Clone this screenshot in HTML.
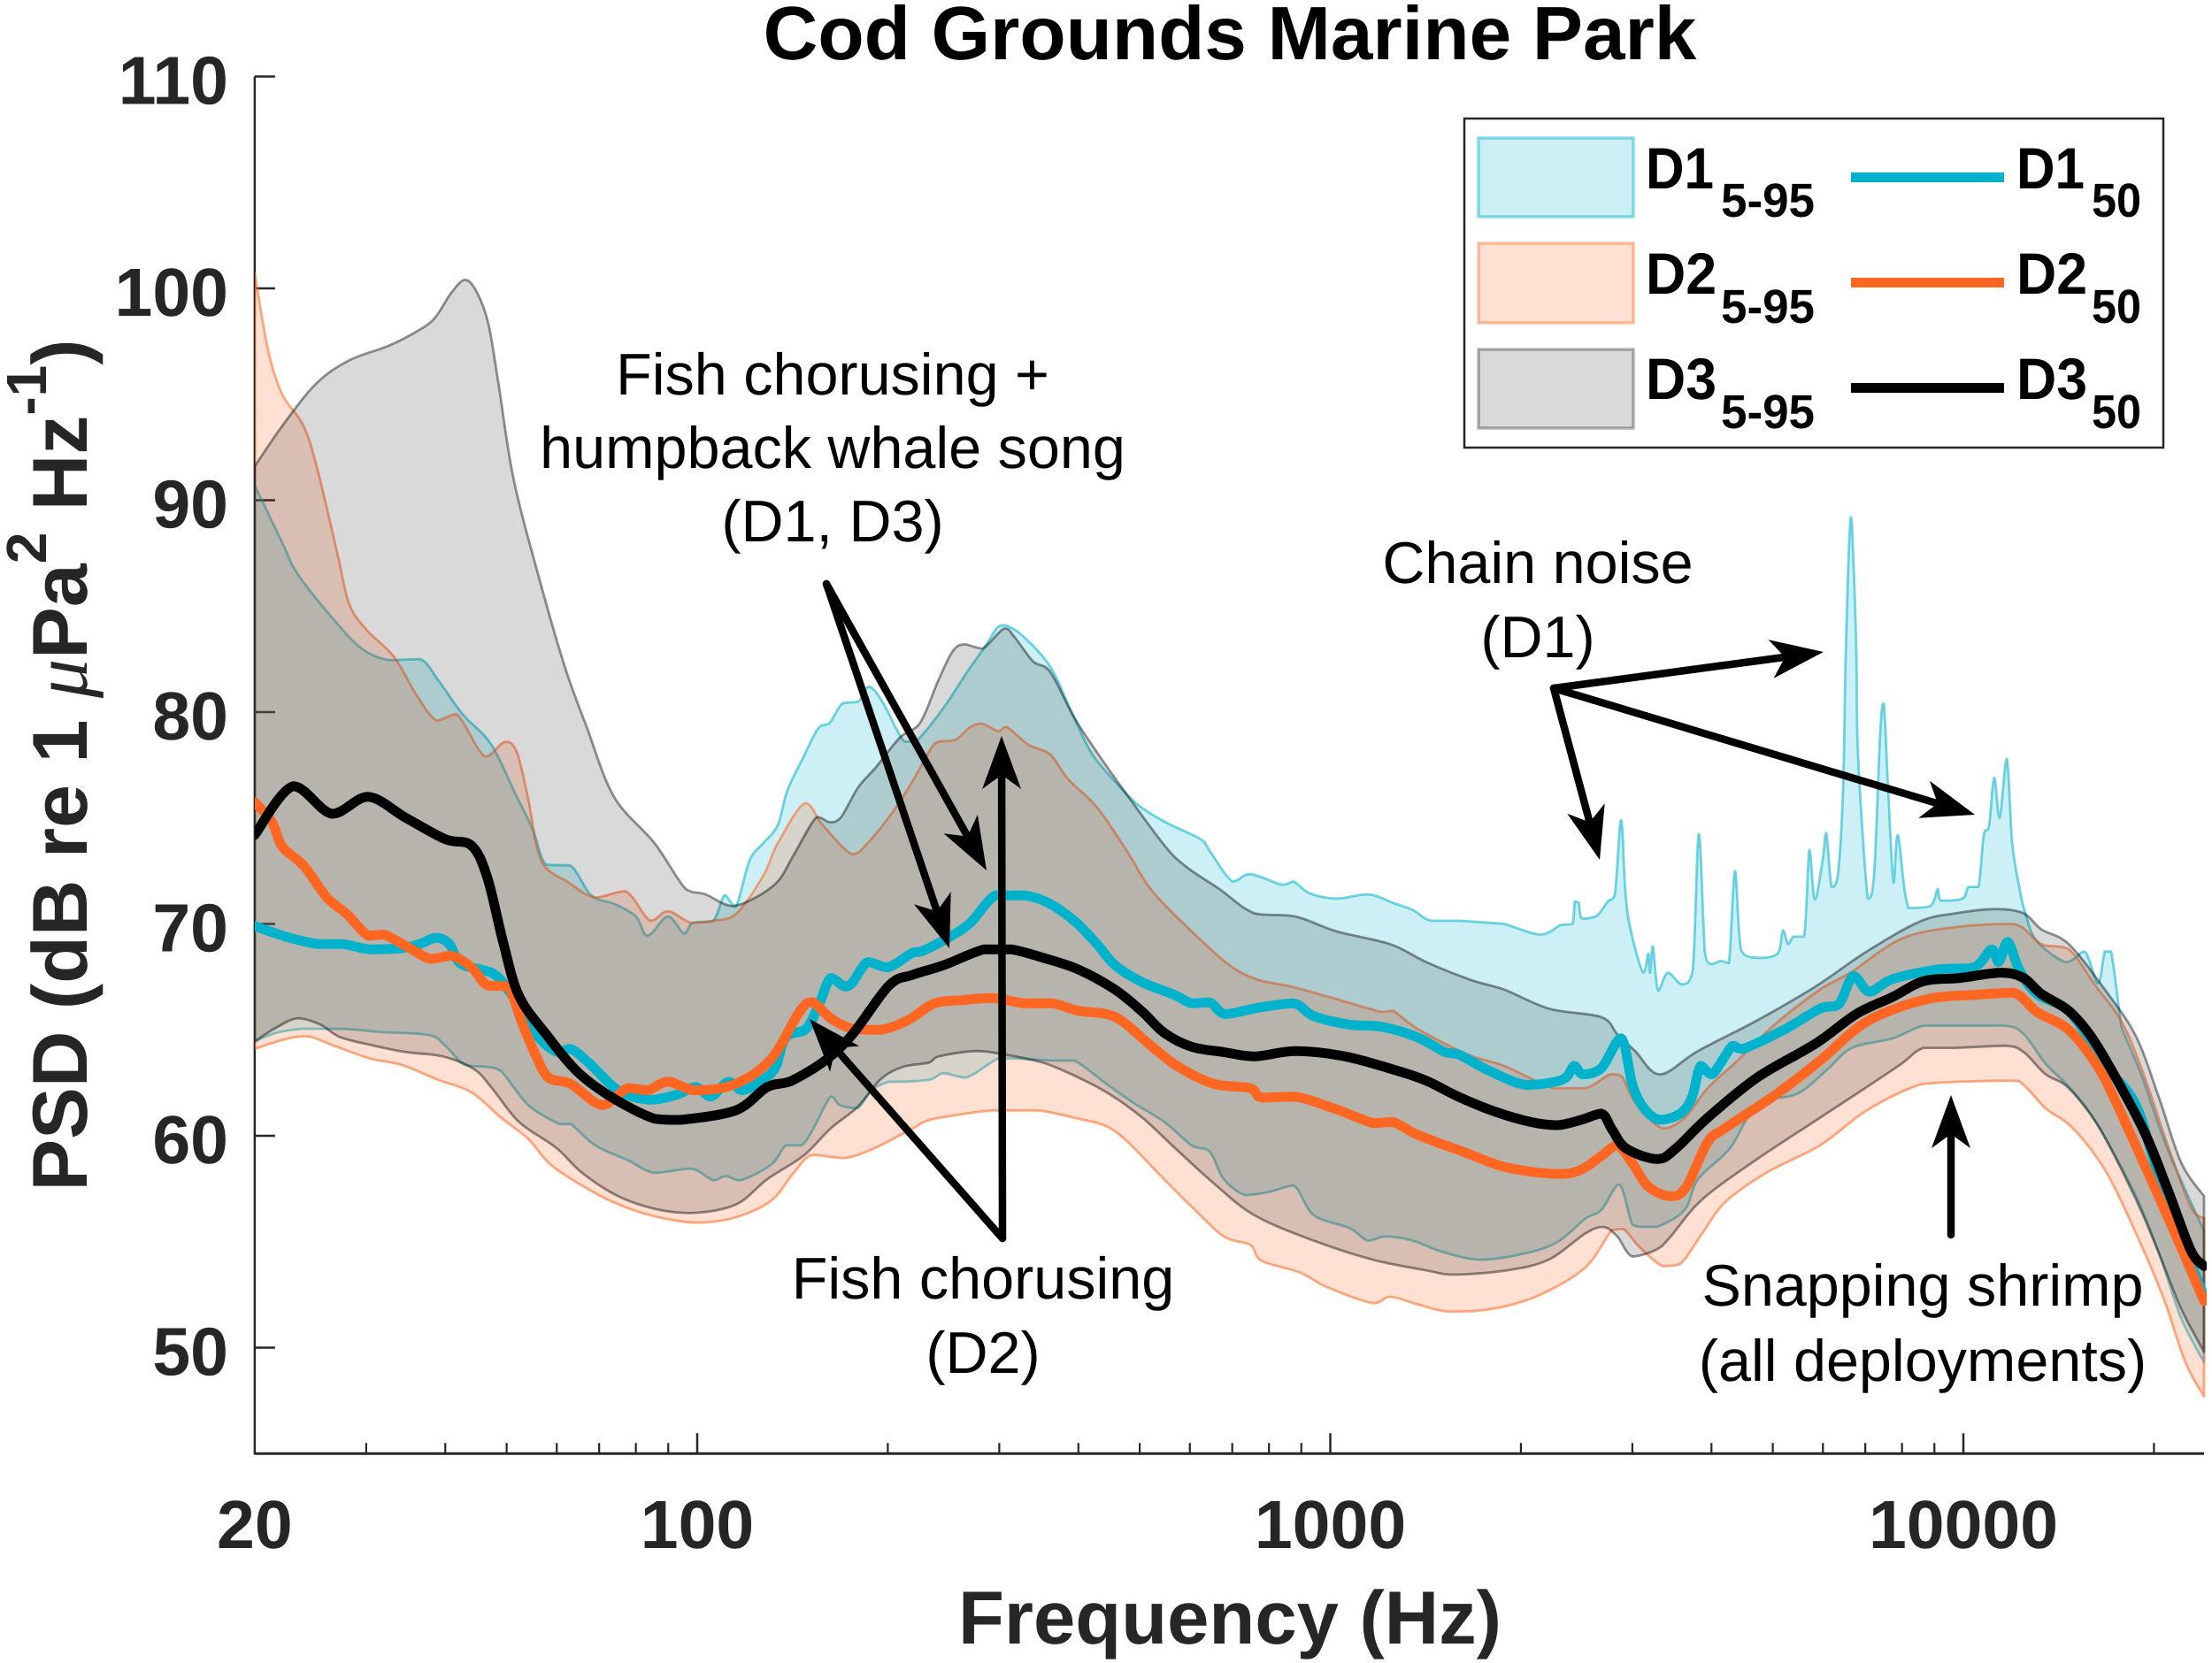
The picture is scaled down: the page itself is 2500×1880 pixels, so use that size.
<!DOCTYPE html>
<html lang="en">
<head>
<meta charset="utf-8">
<title>Cod Grounds Marine Park</title>
<style>
  html, body { margin: 0; padding: 0; background: #fff; }
  svg { display: block; }
  text { font-family: "Liberation Sans", sans-serif; text-rendering: geometricPrecision; }
  .note { font-size: 66.5px; fill: #000; text-anchor: middle; }
  .axis-title { font-size: 85px; font-weight: bold; fill: #262626; }
  .ylab { font-size: 88px; font-weight: bold; fill: #262626; }
  .tick { font-size: 77px; font-weight: bold; fill: #262626; }
  .leg { font-size: 66px; font-weight: bold; fill: #000; }
  .legsub { font-size: 54px; font-weight: bold; fill: #000; }
</style>
</head>
<body>
<svg id="chart" xmlns="http://www.w3.org/2000/svg" width="2500" height="1880" viewBox="0 0 2500 1880">
  <rect x="0" y="0" width="2500" height="1880" fill="#fff"/>
  <defs>
    <clipPath id="plot-clip"><rect x="288" y="80" width="2206" height="1564"/></clipPath>
  </defs>
  <g id="axes"></g>
  <g id="bands" clip-path="url(#plot-clip)"></g>
  <g id="medians" clip-path="url(#plot-clip)"></g>
  <g id="arrows"></g>

  <text x="1390" y="67" text-anchor="middle" font-size="85.5" font-weight="bold" fill="#000">Cod Grounds Marine Park</text>
  <text class="axis-title" x="1390" y="1858" text-anchor="middle">Frequency (Hz)</text>
  <text class="ylab" text-anchor="middle" transform="translate(98 865) rotate(-90)" xml:space="preserve">PSD (dB re 1 <tspan font-family="'Liberation Serif', serif" font-style="italic" font-weight="normal">μ</tspan>Pa<tspan font-size="64" dy="-46">2</tspan><tspan dy="46"> Hz</tspan><tspan font-size="64" dy="-46">-1</tspan><tspan dy="46">)</tspan></text>

  <g>
    <text class="note" x="941" y="446">Fish chorusing +</text>
    <text class="note" x="941" y="529">humpback whale song</text>
    <text class="note" x="941" y="612">(D1, D3)</text>
  </g>
  <g>
    <text class="note" x="1738" y="659">Chain noise</text>
    <text class="note" x="1738" y="743">(D1)</text>
  </g>
  <g>
    <text class="note" x="1111" y="1468">Fish chorusing</text>
    <text class="note" x="1111" y="1552">(D2)</text>
  </g>
  <g>
    <text class="note" x="2173" y="1476">Snapping shrimp</text>
    <text class="note" x="2173" y="1561">(all deployments)</text>
  </g>

  <g>
    <rect x="1655" y="134" width="790" height="372" fill="#fff" stroke="#262626" stroke-width="2.5"/>
    <rect x="1671" y="156" width="175" height="89" fill="#00b2cc" fill-opacity="0.2" stroke="#00b2cc" stroke-opacity="0.45" stroke-width="3.5"/>
    <rect x="1671" y="275" width="175" height="90" fill="#ff6622" fill-opacity="0.2" stroke="#ff6622" stroke-opacity="0.4" stroke-width="3.5"/>
    <rect x="1671" y="395" width="175" height="89" fill="#000" fill-opacity="0.15" stroke="#000" stroke-opacity="0.3" stroke-width="3.5"/>
    <text class="leg" x="1860" y="213" textLength="77" lengthAdjust="spacingAndGlyphs">D1</text>
    <text class="legsub" x="1945" y="245" textLength="106" lengthAdjust="spacingAndGlyphs">5-95</text>
    <text class="leg" x="1860" y="332" textLength="80" lengthAdjust="spacingAndGlyphs">D2</text>
    <text class="legsub" x="1945" y="365" textLength="106" lengthAdjust="spacingAndGlyphs">5-95</text>
    <text class="leg" x="1860" y="451" textLength="80" lengthAdjust="spacingAndGlyphs">D3</text>
    <text class="legsub" x="1945" y="484" textLength="106" lengthAdjust="spacingAndGlyphs">5-95</text>
    <line x1="2092" x2="2265" y1="200.5" y2="200.5" stroke="#00b2cc" stroke-width="11"/>
    <line x1="2092" x2="2265" y1="319.5" y2="319.5" stroke="#ff6622" stroke-width="11"/>
    <line x1="2092" x2="2265" y1="438.5" y2="438.5" stroke="#000" stroke-width="11"/>
    <text class="leg" x="2279" y="213" textLength="77" lengthAdjust="spacingAndGlyphs">D1</text>
    <text class="legsub" x="2364" y="245" textLength="56" lengthAdjust="spacingAndGlyphs">50</text>
    <text class="leg" x="2279" y="332" textLength="80" lengthAdjust="spacingAndGlyphs">D2</text>
    <text class="legsub" x="2364" y="365" textLength="56" lengthAdjust="spacingAndGlyphs">50</text>
    <text class="leg" x="2279" y="451" textLength="80" lengthAdjust="spacingAndGlyphs">D3</text>
    <text class="legsub" x="2364" y="484" textLength="56" lengthAdjust="spacingAndGlyphs">50</text>
  </g>
</svg>
<script>
// ---- Axis tick data ----
const yTickValues = [50, 60, 70, 80, 90, 100, 110];
const yTickLabels = ["50", "60", "70", "80", "90", "100", "110"];
const xLabelValues = [20, 100, 1000, 10000];
const xLabelText = ["20", "100", "1000", "10000"];
const xMajorTicks = [100, 1000, 10000];
const xMinorTicks = [30, 40, 50, 60, 70, 80, 90, 200, 300, 400, 500, 600, 700, 800, 900, 2000, 3000, 4000, 5000, 6000, 7000, 8000, 9000, 20000];

// ---- D1 series (Hz, dB) ----
const d1MedianFreq = [20,20.2,22.7,25.2,27.6,30.4,34.1,36.4,38.7,40.6,42.2,45.5,48.2,51.5,55.8,60.1,63.1,67.4,75,84.3,93,99.4,105,112,118,127,133,138,148.6,156,162.5,171,176,186,200,219,226,249,270,296,329,358,394,428,457,505,567,604,645,683,772,875,942,1072,1204,1373,1517,1592,1788,2040,2327,2428,2506,2681,2879,3001,3130,3316,3571,3724,3846,4010,4318,4487,5204,5938,6353,6708,7108,7729,9109,10390,11080,11370,11750,12250,13060,14760,16790,18730,20370,24000];
const d1Median = [69.9,69.85,69.35,69.05,69.05,68.8,68.85,69.05,69.35,69.05,68.15,67.85,67.55,66.45,64.75,63.95,64.1,63.45,62.15,61.7,61.95,62.3,61.85,62.55,62.15,62.65,63.25,64.65,65.05,66.25,67.45,67.05,67.25,68.2,67.95,68.65,68.7,69.35,70.05,71.35,71.35,71,70.15,69.05,68.05,67.25,66.65,66.25,66.3,65.75,66.05,66.25,65.65,65.25,65.15,64.65,63.95,63.85,63.05,62.4,62.65,63.3,62.9,63.2,64.6,62.4,61.3,60.75,61.05,61.8,63.3,62.9,64.25,64.1,65,66,66.2,67.55,66.8,67.4,67.85,67.95,68.8,68.2,69.15,67.85,66.7,65.8,63.3,61.45,58.1,52.4];

const d1UpperFreq = [20,22.1,23.4,26.6,29.5,32.6,36.5,39,42.6,47.2,51.5,55,57.7,63.1,68,73.9,80,83.5,89.9,95.3,98.4,106,110.5,115,121,127,134,138.8,147,155.4,162,169.5,179.6,186.7,196,206,213,223,245,267,285,298,307,328,361,389,419,461,498,549,624,645,701,747,839,875,927,1023,1147,1267,1351,1441,1592,1788,1882,2147,2313,2411,2434,2467,2499,2639,2742,2815,2879,2925,2982,3120,3180,3200,3232,3295,3414,3594,3736,3821,3908,3997,4141,4262,4358,4458,4725,5088,5187,5288,5392,5603,5712,5825,5996,6073,6192,6332,6455,6517,6581,6645,6708,6777,6819,7065,7226,7390,7486,7608,7756,7881,8192,8876,9109,9228,9968,10190,10560,10770,10980,11190,11410,11710,11940,12250,12530,13060,14530,15540,16310,16730,17110,17680,17850,19090,21030,24000];
const d1Upper = [90.7,88,86.5,84.4,83,82.45,82.5,81.5,79.9,78.5,76.2,74.45,72.8,72.75,71.35,70.95,70.35,69.45,70.35,69.55,70.05,70.15,71.35,70.8,73,73.8,74.65,76.3,77.85,79.25,79.5,80.4,80.5,81.2,80.5,79.25,78.6,78.7,80.2,81.9,83.1,84,84.1,83.55,82.15,80.1,78.1,76.6,75.6,74.8,74,73.45,72,72.35,71.85,72,71.45,71.2,71.4,70.95,70.65,70.15,70.15,70.05,70,69.5,69.95,70,71.05,71,70.25,70.4,71.05,71.4,74.9,71.5,69.7,67.7,68.6,67.7,68.95,66.85,67.7,67.15,67.8,74.25,68.6,68.1,68.25,68.15,72.5,68.75,68.4,68.6,69.7,69.05,69.4,69.4,73.5,71.15,73.05,74.3,71.75,72.25,76.3,82.7,87,89.2,87,82.7,77.9,71.2,72.25,79,80.4,76.3,71.95,74.2,70.75,70.85,71.65,71.1,71.2,71.75,71.75,74.2,74.65,76.9,75,77.8,73.85,71.75,70.5,69.2,68.2,68.7,67.2,68.7,68.7,65.6,65,62.9,59.35,55.5];

const d1LowerFreq = [20,21.6,23.8,27.6,31.5,37.7,40,42.9,46.6,49,54.1,60.7,63.1,69,77.6,85.7,97.8,106,111,117,131,138,146,152,162.5,168,179,188.6,201,211,233,245,266,299,318,364,394,443,489,547,604,645,679,735,800,875,942,1072,1147,1223,1351,1493,1726,2033,2288,2531,2681,2860,3001,3130,3283,3629,3808,4276,4725,5479,6131,6667,7729,8653,9714,11630,12450,13490,14900,16420,18730,20370,22070,24000];
const d1Lower = [64.45,64.85,65.05,65.05,64.9,64.75,64.25,63.35,63.25,63.05,61.45,60.55,60.55,59.55,58.85,58.25,58.45,57.9,58.1,57.9,58.65,59.55,59.55,60.25,61.85,61.45,61.3,62.15,62.55,62.55,62.65,62.95,62.75,63.65,63.65,63.55,63.55,62.45,61.55,60.65,59.55,59.25,57.95,57.2,57.35,57.65,56.25,55.65,55.05,55.25,55.05,54.55,54.15,54.45,55,56.1,56.5,57.7,55.8,55.7,55.7,56.5,57.95,59.4,61.45,62,63.2,64.15,64.6,65.2,65.2,65.2,64.8,63.4,62.1,60.35,57.15,54.45,51.4,49.3];

// ---- D2 series (Hz, dB) ----
const d2MedianFreq = [20,21.3,22.1,23.9,26,28,30.2,32,34.7,37.9,40.9,44,46.6,50.2,52.7,55.5,58.2,63.1,70.8,77.6,83.5,89.9,99.4,115,131,145,152,162.5,176,194.6,215,237,262,293,329,364,400,443,472,521,576,655,747,779,881,1023,1168,1256,1373,1620,1901,2288,2490,2681,2840,3001,3180,3449,3652,3945,4200,5056,5938,6840,7729,8950,10390,12000,13060,14670,16200,17290,19340,21480,24000];
const d2Median = [75.75,74.8,73.65,72.75,71.25,70.45,69.45,69.5,68.95,68.35,68.5,67.95,67.1,67.05,65.45,63.85,62.75,62.45,61.45,62.25,62.15,62.55,62.15,62.45,63.65,65.85,66.3,65.55,65.05,65,65.45,66.25,66.4,66.5,66.25,66.25,65.9,65.75,65.35,64.25,63.25,62.45,62.25,61.8,61.85,61.25,60.6,60.65,60.05,59.25,58.5,58.2,58.4,59.05,59.55,58.7,57.6,57.15,57.6,59.7,60.35,61.95,63.55,65.15,65.95,66.5,66.65,66.75,65.85,65,63.4,61.8,58.6,55.55,52.2];

const d2UpperFreq = [20,21,22.1,23.9,25.2,27.1,28.2,30,33.2,36.2,38.8,41.7,46.2,49.7,51.9,54,56.7,62.7,69,77,84.3,89.9,97.8,106,115,127,134,148,158,175.6,187,206,220,238,256,270,282,299,308,334,361,385,428,476,525,624,701,772,866,1023,1204,1256,1373,1644,1882,2254,2531,2770,2887,3030,3347,3629,3945,4416,5056,5938,6667,7984,9714,12000,13270,14670,16200,17850,19340,21030,22860,24000];
const d2Upper = [100.7,97.1,95,93.5,91.3,87.3,85.1,83.9,82.6,80.7,79.6,79.9,77.9,78.6,78.1,76,73,71.95,71.25,71.55,70.15,70.6,70.05,70.15,70.45,72.25,73.8,75.7,74.65,73.3,73.9,75.5,76.85,78.55,78.7,79.3,79.45,79.1,79.3,78.45,78,76.85,75.5,73.5,71.5,69.25,67.95,67.35,67.05,66.45,65.85,65.9,65.05,63.85,63.3,62.25,62.25,62.9,62.8,61.6,60.35,60.85,62.25,63.6,65.3,66.9,67.75,69.3,69.85,70,69.05,68.8,67.05,65.3,62.75,59.55,56.65,56.1];

const d2LowerFreq = [20,22.3,24.2,26.7,30.4,34.1,38.9,44,49,54.1,58.6,65.8,73.9,84.3,99.4,115,131,142,152,171,191.6,219,233,266,293,345,394,443,481,530,604,679,747,779,895,989,1168,1243,1373,1542,1817,2147,2531,2786,2906,3079,3347,3571,3870,4200,4880,5938,6997,8245,9109,11820,12450,13490,14900,16730,18730,20700,22430,24000];
const d2Lower = [64.1,64.55,64.7,64.25,63.65,63.35,62.65,62.05,60.85,59.85,58.65,57.65,56.85,56.25,55.9,56.15,56.95,58.25,59.1,58.95,59.45,60.35,60.75,61.05,61.2,61.2,60.85,60.45,59.65,58.35,56.65,55.25,54.85,54.1,53.55,52.85,52.1,52.4,52.05,51.7,51.85,52.5,53.8,55.55,55.6,54.75,53.85,53.95,55.4,56.85,58.25,59.55,61.15,62.25,62.5,62.6,62.4,61.3,60.35,58.4,55.4,52.35,49.3,47.7];

// ---- D3 series (Hz, dB) ----
const d3MedianFreq = [20,23,26.5,30.2,34.7,40,44,46.6,49.4,52.3,57.7,64.8,73.9,85.7,94,115,129,141,160,176,201,219,245,284,313,352,400,457,505,547,604,679,759,881,1054,1267,1418,1592,1817,2073,2283,2490,2681,2786,2934,3283,3514,3945,4725,5843,6777,7729,8653,9872,11450,12450,13270,14670,15900,17290,19340,21030,22860,24000];
const d3Median = [74.2,76.5,75.2,76,75,74,73.7,72.2,69.1,66.6,64.8,63,61.75,60.8,60.75,61.2,62.3,62.6,63.6,64.8,67.1,67.6,68.05,68.8,68.8,68.4,67.85,66.9,65.85,64.85,64.2,63.95,63.75,64,63.75,63.1,62.6,61.85,61.15,60.65,60.5,60.75,61.05,60.3,59.4,58.9,59.4,60.85,62.75,64.35,65.75,66.55,67.3,67.45,67.7,67.45,66.7,65.9,64.7,62.9,60.15,57.45,54.6,53.85];

const d3UpperFreq = [20,22.1,25,28.2,32.6,36.2,38.5,40.9,43,44.9,46.8,48.6,51.2,55.7,61.7,66.9,73.9,85.7,95.9,103,113,122.8,134,142,154.4,162,168.4,179.6,191.6,209,225,240,253,264,282,305.5,317,339,361,393,428,476,549,595,668,759,881,1023,1243,1418,1670,1882,2218,2681,2840,3030,3316,3808,4725,5843,6997,8514,9714,11260,12450,13270,14670,16730,18730,20370,22070,24000];
const d3Upper = [91.6,93.5,95.5,96.6,97.3,98,98.6,99.8,100.4,99.8,98.3,95.4,91.1,86.8,82.2,79.3,76,73.8,71.65,71.4,70.85,71.2,72,73.25,75.05,74.8,75,76.45,77.4,78.8,79.5,81.45,82.85,83.2,83,83.95,83.55,82.4,81.9,79.8,78.1,76.15,73.65,72.65,71.65,70.5,70.35,69.65,69.05,68.2,67.35,66.9,66,65.6,64.8,64,62.9,64,65.45,67.05,68.65,70.1,70.5,70.7,70.5,69.75,69.05,66.9,64.7,61.8,58.75,57.15];

const d3LowerFreq = [20,21.6,23.4,25.4,27.3,30.9,34.7,39.6,44.4,47.4,52.3,59.8,65.8,75,85.7,97.8,115,129,147,162.5,179,194.6,211,232,241,275,303.5,352,400,449,505,567,655,759,942,1168,1418,1567,1901,2211,2531,2699,2840,3001,3283,3449,3870,4725,5938,6997,7984,8653,9714,11630,12450,13490,14670,16420,18730,20370,22070,24000];
const d3Lower = [64.45,65.1,65.55,65.25,64.65,64.25,63.95,63.75,63.15,62.25,60.65,59.45,58.25,57.15,56.55,56.35,56.75,57.95,59.05,60.35,61.35,62.65,63.25,63.45,63.75,64,63.85,63.45,62.75,61.95,60.85,59.45,57.75,56.25,55.05,54.15,53.65,53.45,53.65,54.15,55.4,55.7,55.25,54.3,54.65,55.25,57,58.9,60.85,62.25,63.4,64.15,64.15,64.25,63.95,62.9,62.25,60.35,57,54.45,51.85,49.8];

// ---- Axis functions ----
const xOf = f => 788 + 715.5 * Math.log10(f / 100);
const yOf = v => 1523.5 - (v - 50) * 23.95;

const SVG_NS = "http://www.w3.org/2000/svg";
const axesGroup = document.getElementById("axes");
const bandsGroup = document.getElementById("bands");
const mediansGroup = document.getElementById("medians");
const arrowsGroup = document.getElementById("arrows");
const xLeft = xOf(20);
const xRight = xOf(24000);
const yBottom = yOf(45);
const yTop = yOf(110);

// Clamped Catmull-Rom: smooth between readings without overshooting them.
function curveSegments(freqs, values) {
  const px = freqs.map(f => xOf(f));
  const py = values.map(v => yOf(v));
  let d = "";
  const clamp = (v, a, b) => Math.max(Math.min(a, b), Math.min(Math.max(a, b), v));
  for (let i = 0; i < px.length - 1; i++) {
    const i0 = Math.max(0, i - 1), i3 = Math.min(px.length - 1, i + 2);
    const c1x = px[i] + (px[i + 1] - px[i0]) / 6;
    const c1y = clamp(py[i] + (py[i + 1] - py[i0]) / 6, py[i], py[i + 1]);
    const c2x = px[i + 1] - (px[i3] - px[i]) / 6;
    const c2y = clamp(py[i + 1] - (py[i3] - py[i]) / 6, py[i], py[i + 1]);
    d += "C" + c1x.toFixed(1) + " " + c1y.toFixed(1) + " " + c2x.toFixed(1) + " " + c2y.toFixed(1) + " " + px[i + 1].toFixed(1) + " " + py[i + 1].toFixed(1) + " ";
  }
  return d;
}
function axisLine(x1, y1, x2, y2, name, width) {
  const el = document.createElementNS(SVG_NS, "line");
  
  
  el.setAttribute("x1", x1);
  el.setAttribute("y1", y1);
  el.setAttribute("x2", x2);
  el.setAttribute("y2", y2);
  el.setAttribute("stroke", "#262626");
  el.setAttribute("stroke-width", width);
  axesGroup.appendChild(el);
}
function tickText(x, y, anchor, label, name) {
  const el = document.createElementNS(SVG_NS, "text");
  
  
  el.setAttribute("class", "tick");
  el.setAttribute("x", x);
  el.setAttribute("y", y);
  el.setAttribute("text-anchor", anchor);
  el.textContent = label;
  axesGroup.appendChild(el);
}
function drawBand(upF, up, loF, lo, color, fillOpacity, strokeOpacity, name) {
  const el = document.createElementNS(SVG_NS, "path");
  
  
  const rF = loF.slice().reverse();
  const rV = lo.slice().reverse();
  const d = "M" + xOf(upF[0]).toFixed(1) + " " + yOf(up[0]).toFixed(1) + " " + curveSegments(upF, up) +
    "L" + xOf(rF[0]).toFixed(1) + " " + yOf(rV[0]).toFixed(1) + " " + curveSegments(rF, rV) + "Z";
  el.setAttribute("d", d);
  el.setAttribute("fill", color);
  el.setAttribute("fill-opacity", fillOpacity);
  el.setAttribute("stroke", color);
  el.setAttribute("stroke-opacity", strokeOpacity);
  el.setAttribute("stroke-width", "2.8");
  el.setAttribute("stroke-linejoin", "round");
  bandsGroup.appendChild(el);
}
function drawMedian(freqs, values, color, name) {
  const el = document.createElementNS(SVG_NS, "path");
  
  
  el.setAttribute("d", "M" + xOf(freqs[0]).toFixed(1) + " " + yOf(values[0]).toFixed(1) + " " + curveSegments(freqs, values));
  el.setAttribute("fill", "none");
  el.setAttribute("stroke", color);
  el.setAttribute("stroke-width", "11");
  el.setAttribute("stroke-linejoin", "round");
  el.setAttribute("stroke-linecap", "round");
  mediansGroup.appendChild(el);
}
function drawArrow(x1, y1, x2, y2, name) {
  const len = Math.hypot(x2 - x1, y2 - y1);
  const ux = (x2 - x1) / len, uy = (y2 - y1) / len;
  const nx = -uy, ny = ux;
  const notch = 44, barbBack = 60, half = 22;
  const shaft = document.createElementNS(SVG_NS, "line");
  
  
  shaft.setAttribute("x1", x1);
  shaft.setAttribute("y1", y1);
  shaft.setAttribute("x2", x2 - ux * notch);
  shaft.setAttribute("y2", y2 - uy * notch);
  shaft.setAttribute("stroke", "#000");
  shaft.setAttribute("stroke-width", "8.5");
  shaft.setAttribute("stroke-linecap", "round");
  arrowsGroup.appendChild(shaft);
  const head = document.createElementNS(SVG_NS, "polygon");
  
  
  const pts = [
    [x2, y2],
    [x2 - ux * barbBack + nx * half, y2 - uy * barbBack + ny * half],
    [x2 - ux * notch, y2 - uy * notch],
    [x2 - ux * barbBack - nx * half, y2 - uy * barbBack - ny * half]
  ];
  head.setAttribute("points", pts.map(p => p[0].toFixed(1) + "," + p[1].toFixed(1)).join(" "));
  head.setAttribute("fill", "#000");
  arrowsGroup.appendChild(head);
}

// Axes
axisLine(xLeft, yTop, xLeft, yBottom + 1.25, "y-axis-line", 2.5);
axisLine(xLeft, yBottom, xRight, yBottom, "x-axis-line", 3);
yTickValues.forEach((v, i) => {
  axisLine(xLeft, yOf(v), xLeft + 23, yOf(v), "y-tick-" + yTickLabels[i], 2.5);
  tickText(258, yOf(v) + 31, "end", yTickLabels[i], "y-tick-label-" + yTickLabels[i]);
});
xMajorTicks.forEach(f => {
  axisLine(xOf(f), yBottom, xOf(f), yBottom - 23, "x-major-tick-" + f, 2.5);
});
xMinorTicks.forEach(f => {
  axisLine(xOf(f), yBottom, xOf(f), yBottom - 12, "x-minor-tick-" + f, 2.2);
});
xLabelValues.forEach((f, i) => {
  tickText(xOf(f), 1750, "middle", xLabelText[i], "x-tick-label-" + xLabelText[i]);
});

// Bands
drawBand(d1UpperFreq, d1Upper, d1LowerFreq, d1Lower, "#00b2cc", 0.2, 0.55, "d1-percentile-band");
drawBand(d2UpperFreq, d2Upper, d2LowerFreq, d2Lower, "#ff6622", 0.2, 0.55, "d2-percentile-band");
drawBand(d3UpperFreq, d3Upper, d3LowerFreq, d3Lower, "#000000", 0.15, 0.42, "d3-percentile-band");

// Medians
drawMedian(d1MedianFreq, d1Median, "#00b2cc", "d1-median-line");
drawMedian(d2MedianFreq, d2Median, "#ff6622", "d2-median-line");
drawMedian(d3MedianFreq, d3Median, "#000000", "d3-median-line");

// Annotation arrows
drawArrow(934, 660, 1073, 1072, "arrow-humpback-d1");
drawArrow(934, 660, 1115, 984, "arrow-humpback-d3");
drawArrow(1133, 1400, 1132, 832, "arrow-fish-up");
drawArrow(1133, 1400, 915, 1152, "arrow-fish-left");
drawArrow(1756, 778, 2061, 737, "arrow-chain-top");
drawArrow(1756, 778, 2232, 921, "arrow-chain-right");
drawArrow(1756, 778, 1808, 972, "arrow-chain-down");
drawArrow(2205, 1396, 2205, 1238, "arrow-shrimp");
</script>
</body>
</html>
